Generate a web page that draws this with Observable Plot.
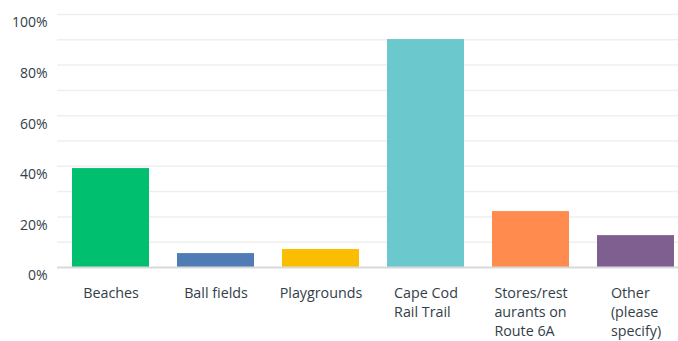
<!DOCTYPE html>
<html>
<head>
<meta charset="utf-8">
<script src="https://cdn.jsdelivr.net/npm/d3@7"></script>
<script src="https://cdn.jsdelivr.net/npm/@observablehq/plot@0.6"></script>
<style>
  html, body { margin: 0; padding: 0; background: #fff; }
  svg { display: block; }
</style>
</head>
<body>
<div id="chart"></div>
<script>
const categories = ["Beaches", "Ball fields", "Playgrounds", "Cape Cod\nRail Trail", "Stores/rest\naurants on\nRoute 6A", "Other\n(please\nspecify)"];
const values = [39.1, 5.5, 7.1, 90.1, 22.1, 12.6];
const colors = ["#00bf6f", "#507cb6", "#f9be00", "#6bc8cd", "#ff8b4f", "#7f5f90"];
const yTicks = [0, 20, 40, 60, 80, 100];
const gridTicks = [10, 20, 30, 40, 50, 60, 70, 80, 90, 100];

const data = categories.map((c, i) => ({category: c, value: values[i], color: colors[i]}));
const fontFamily = "'Open Sans', sans-serif";
const labelSize = 14.3;

// measure each label block so its lines are left-aligned but the block is centred under its bar
const ctx = document.createElement("canvas").getContext("2d");
ctx.font = `${labelSize}px 'Open Sans'`;
const blockWidth = c => d3.max(c.split("\n"), line => ctx.measureText(line).width);

const labelMarks = categories.map(c => Plot.text([c], {
  x: d => d,
  frameAnchor: "bottom",
  textAnchor: "start",
  lineAnchor: "top",
  lineHeight: 1.32,
  dy: 17.5,
  dx: -blockWidth(c) / 2,
  fill: "#333e48",
  fontSize: labelSize
}));

const chart = Plot.plot({
  width: 678,
  height: 341,
  marginTop: 14,
  marginBottom: 74,
  marginLeft: 57,
  marginRight: 0,
  style: {fontFamily, background: "#fff", overflow: "visible"},
  x: {domain: categories, paddingInner: 0.267, paddingOuter: 0.09, align: 0.79, axis: null},
  y: {domain: [0, 100], axis: null},
  marks: [
    Plot.ruleY(gridTicks, {stroke: "#efefef", strokeWidth: 1.5}),
    Plot.barY(data, {x: "category", y: "value", fill: "color"}),
    Plot.ruleY([0], {stroke: "#d9d9d9", strokeWidth: 2}),
    Plot.ruleX([0], {x: () => 0, frameAnchor: "left", stroke: "#d9d9d9", strokeWidth: 2}),
    Plot.axisY(yTicks, {
      tickSize: 0,
      tickPadding: 10,
      dy: 8.5,
      tickFormat: d => d + "%",
      fontSize: 14,
      fill: "#333e48",
      label: null
    }),
    ...labelMarks
  ]
});
document.getElementById("chart").appendChild(chart);
</script>
</body>
</html>
